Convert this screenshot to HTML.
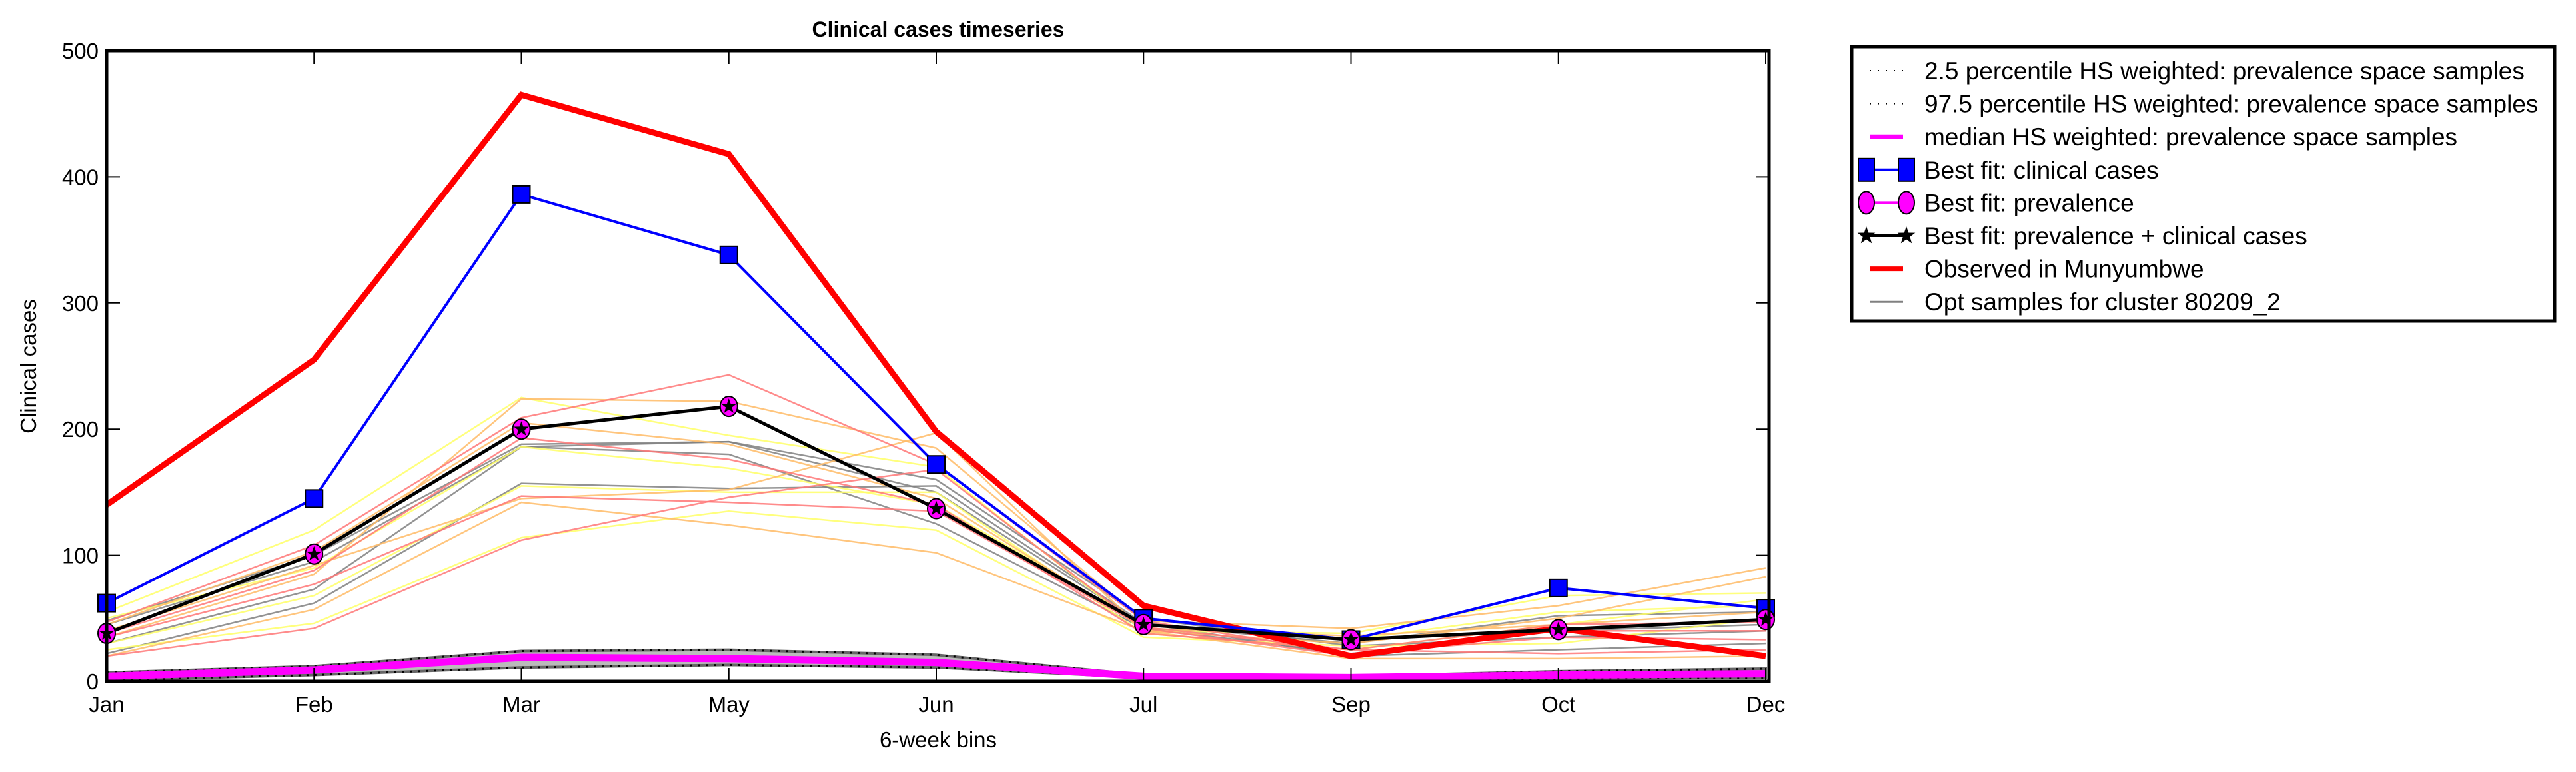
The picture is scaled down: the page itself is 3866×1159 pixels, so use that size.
<!DOCTYPE html>
<html><head><meta charset="utf-8"><style>
html,body{margin:0;padding:0;background:#fff;}
svg{display:block;font-family:"Liberation Sans",sans-serif;}
</style></head><body>
<svg id="chart" width="3866" height="1159" viewBox="0 0 3866 1159" xmlns="http://www.w3.org/2000/svg">
<rect width="3866" height="1159" fill="#fff"/>
<text x="1408" y="55" font-size="32" font-weight="bold" text-anchor="middle">Clinical cases timeseries</text>
<text x="1408" y="1122" font-size="33" text-anchor="middle">6-week bins</text>
<text transform="translate(54,550) rotate(-90)" font-size="33" text-anchor="middle">Clinical cases</text>
<g id="plot"></g>
<g id="legend"></g>
</svg>
<script>
const categories = ["Jan","Feb","Mar","May","Jun","Jul","Sep","Oct","Dec"];
const yTicks = [0,100,200,300,400,500];
const observed = [140,255,465,418,198,60,20,42,20];
const bestClinical = [62,145,386,338,172,50,33,74,58];
const bestPrevalence = [38,101,200,218,137,45,33,41,49];
const median = [4,9,19,18,15,4,3,5,6];
const p025 = [1,5,11,13,11,3,2,2,3];
const p975 = [7,12,24,25,21,5,4,8,10];
const sampleColors = ["#808080","#808080","#808080","#808080","#ffff66","#ffff66","#ffff66","#ffff66","#ffbb66","#ffbb66","#ffbb66","#ffbb66","#ff7777","#ff7777","#ff7777","#ff7777"];
const samples = [
 [48,100,188,190,150,45,30,52,55],
 [30,73,186,180,125,42,22,40,45],
 [22,62,157,153,155,46,20,25,30],
 [45,95,186,190,160,50,28,35,40],
 [55,120,225,195,170,40,38,68,70],
 [30,68,155,150,150,38,25,45,65],
 [25,46,114,135,120,35,28,30,50],
 [50,90,186,169,140,45,33,55,60],
 [20,57,142,124,102,40,18,18,20],
 [35,85,224,222,185,48,42,60,90],
 [40,92,145,152,197,40,30,50,83],
 [45,103,205,188,145,42,36,45,55],
 [20,42,112,146,168,42,20,40,40],
 [47,108,209,243,172,48,22,35,33],
 [35,77,147,142,135,43,25,22,25],
 [38,88,193,176,140,38,25,45,47]
];
const X0=160, X1=2650, Y0=1023, Y1=76, YMAX=500;
function xs(i){return X0+(X1-X0)*i/(categories.length-1);}
function ys(v){return Y0-(Y0-Y1)*v/YMAX;}
const NS="http://www.w3.org/2000/svg";
function mk(tag,attrs,parent){const e=document.createElementNS(NS,tag);for(const k in attrs)e.setAttribute(k,attrs[k]);parent.appendChild(e);return e;}
function pts(arr){return arr.map((v,i)=>xs(i)+","+ys(v)).join(" ");}
const plot=document.getElementById("plot");
const bandPts=p975.map((v,i)=>xs(i)+","+ys(v)).concat(p025.map((v,i)=>[i,v]).reverse().map(([i,v])=>xs(i)+","+ys(v))).join(" ");
const band=mk("polygon",{points:bandPts,fill:"#bbbbbb",stroke:"#666","stroke-width":4},plot);


samples.forEach((s,k)=>{
 const l=mk("polyline",{points:pts(s),fill:"none",stroke:sampleColors[k],"stroke-width":2.5,"stroke-opacity":0.85},plot);
 
 
});
const p1=mk("polyline",{points:pts(p025),fill:"none",stroke:"#000","stroke-width":3,"stroke-dasharray":"3 9"},plot);


const p2=mk("polyline",{points:pts(p975),fill:"none",stroke:"#000","stroke-width":3,"stroke-dasharray":"3 9"},plot);


const med=mk("polyline",{points:pts(median),fill:"none",stroke:"#ff00ff","stroke-width":11},plot);


const obs=mk("polyline",{points:pts(observed),fill:"none",stroke:"#ff0000","stroke-width":9,"stroke-linejoin":"miter"},plot);


const bl=mk("polyline",{points:pts(bestClinical),fill:"none",stroke:"#0000ff","stroke-width":4},plot);


bestClinical.forEach((v,i)=>{
 const r=mk("rect",{x:xs(i)-13,y:ys(v)-13,width:26,height:26,fill:"#0000ff",stroke:"#000","stroke-width":2},plot);
 
 
});
const pl=mk("polyline",{points:pts(bestPrevalence),fill:"none",stroke:"#000","stroke-width":5},plot);


function starPath(cx,cy,R){let d="";for(let i=0;i<10;i++){const r=i%2?R*0.4:R;const a=-Math.PI/2+i*Math.PI/5;d+=(i?"L":"M")+(cx+r*Math.cos(a))+","+(cy+r*Math.sin(a));}return d+"Z";}
bestPrevalence.forEach((v,i)=>{
 const c=mk("ellipse",{cx:xs(i),cy:ys(v),rx:13,ry:15,fill:"#ff00ff",stroke:"#000","stroke-width":2},plot);
 
 
 const s=mk("path",{d:starPath(xs(i),ys(v),12),fill:"#000"},plot);
 
 
});
const fr=mk("rect",{x:X0,y:Y1,width:X1-X0+5,height:Y0-Y1,fill:"none",stroke:"#000","stroke-width":5},plot);


categories.forEach((c,i)=>{
 const t1=mk("line",{x1:xs(i),x2:xs(i),y1:Y0,y2:Y0-20,stroke:"#000","stroke-width":2},plot);
 
 
 const t2=mk("line",{x1:xs(i),x2:xs(i),y1:Y1,y2:Y1+20,stroke:"#000","stroke-width":2},plot);
 
 
 const tx=mk("text",{x:xs(i),y:Y0+46,"font-size":33,"text-anchor":"middle"},plot);
 tx.textContent=c;
 
 
});
yTicks.forEach(v=>{
 const t1=mk("line",{x1:X0,x2:X0+20,y1:ys(v),y2:ys(v),stroke:"#000","stroke-width":2},plot);
 
 
 const t2=mk("line",{x1:X1+5,x2:X1-15,y1:ys(v),y2:ys(v),stroke:"#000","stroke-width":2},plot);
 
 
 const tx=mk("text",{x:X0-12,y:ys(v)+12,"font-size":33,"text-anchor":"end"},plot);
 tx.textContent=v;
 
 
});
const lg=document.getElementById("legend");
const box=mk("rect",{x:2779,y:70,width:1055,height:412,fill:"#fff",stroke:"#000","stroke-width":5},lg);


const entries=[
 ["2.5 percentile HS weighted: prevalence space samples","dot"],
 ["97.5 percentile HS weighted: prevalence space samples","dot"],
 ["median HS weighted: prevalence space samples","mag"],
 ["Best fit: clinical cases","sq"],
 ["Best fit: prevalence","ci"],
 ["Best fit: prevalence + clinical cases","st"],
 ["Observed in Munyumbwe","red"],
 ["Opt samples for cluster 80209_2","gray"]
];
entries.forEach((e,k)=>{
 const y=106+k*49.6;
 const g=mk("g",{},lg);
 
 
 const x1=2801,x2=2861;
 if(e[1]==="dot") mk("line",{x1:x1+5,x2:x2-5,y1:y,y2:y,stroke:"#000","stroke-width":2,"stroke-dasharray":"2 10"},g);
 if(e[1]==="mag") mk("line",{x1:x1+5,x2:x2-5,y1:y,y2:y,stroke:"#ff00ff","stroke-width":7},g);
 if(e[1]==="red") mk("line",{x1:x1+5,x2:x2-5,y1:y,y2:y,stroke:"#ff0000","stroke-width":7},g);
 if(e[1]==="gray") mk("line",{x1:x1+5,x2:x2-5,y1:y,y2:y,stroke:"#808080","stroke-width":3},g);
 if(e[1]==="sq"){mk("line",{x1:x1,x2:x2,y1:y,y2:y,stroke:"#0000ff","stroke-width":4},g);
  mk("rect",{x:x1-12,y:y-17,width:24,height:34,fill:"#0000ff",stroke:"#000","stroke-width":2},g);
  mk("rect",{x:x2-12,y:y-17,width:24,height:34,fill:"#0000ff",stroke:"#000","stroke-width":2},g);}
 if(e[1]==="ci"){mk("line",{x1:x1,x2:x2,y1:y,y2:y,stroke:"#ff00ff","stroke-width":4},g);
  mk("ellipse",{cx:x1,cy:y,rx:12,ry:17,fill:"#ff00ff",stroke:"#000","stroke-width":2},g);
  mk("ellipse",{cx:x2,cy:y,rx:12,ry:17,fill:"#ff00ff",stroke:"#000","stroke-width":2},g);}
 if(e[1]==="st"){mk("line",{x1:x1,x2:x2,y1:y,y2:y,stroke:"#000","stroke-width":4},g);
  mk("path",{d:starPath(x1,y,14),fill:"#000"},g);mk("path",{d:starPath(x2,y,14),fill:"#000"},g);}
 const t=mk("text",{x:2888,y:y+13,"font-size":37},g);
 t.textContent=e[0];
 
 
});
</script>
</body></html>
